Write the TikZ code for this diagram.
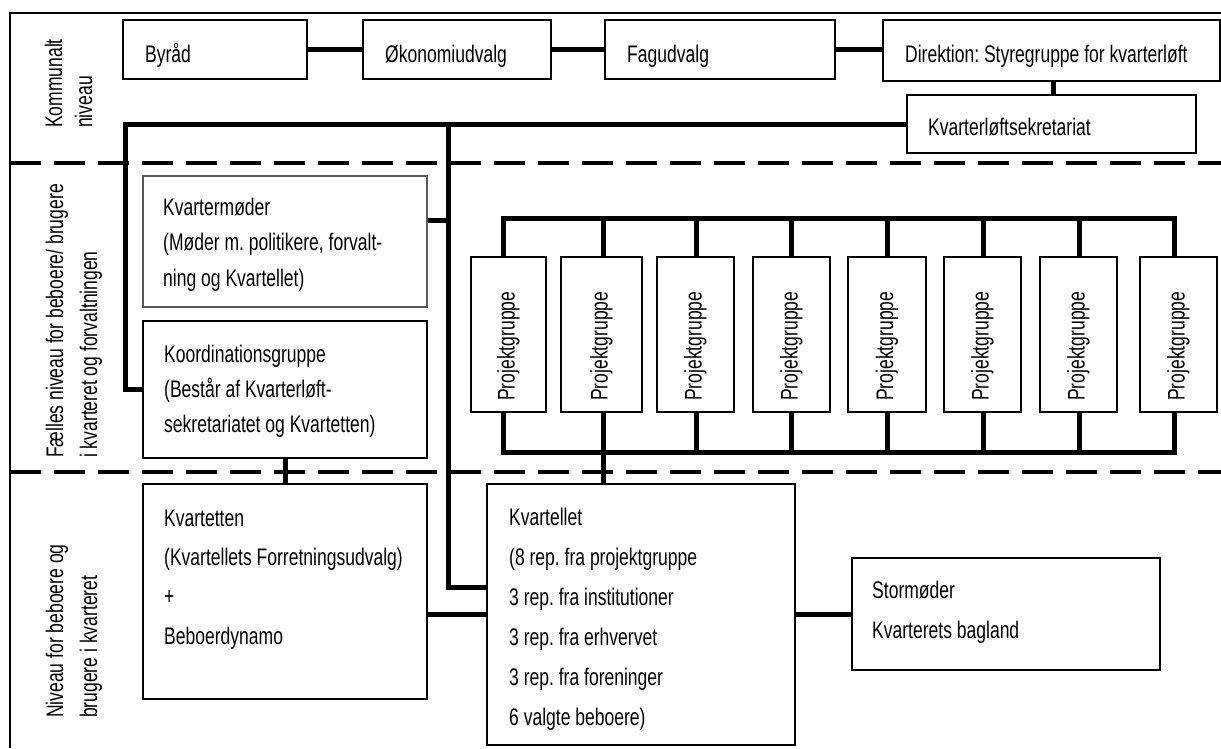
\documentclass[tikz,border=0pt]{standalone}
\usepackage{fontspec}
\setmainfont{Liberation Sans}[FakeStretch=0.73]
\usetikzlibrary{fit}
\begin{document}
\frenchspacing
\begin{tikzpicture}[x=1pt,y=-1pt,
  box/.style={draw, line width=2pt, inner sep=0pt},
  thinbox/.style={draw=black!65, line width=1.3pt, inner sep=0pt},
  conn/.style={line width=5pt},
  framel/.style={line width=1.5pt},
  sepline/.style={line width=4.5pt, dash pattern=on 31pt off 13pt},
  txt/.style={inner sep=0pt, font=\fontsize{24}{28}\selectfont, anchor=base west},
  vtxt/.style={txt, rotate=90},
]
\useasboundingbox (0,0) rectangle (1221,748);

% frame and level separators
\draw[framel] (10,748) -- (10,13) -- (1221,13);
\draw[sepline] (10,163) -- (1221,163);
\draw[sepline] (10,472) -- (1221,472);

% level labels
\node[vtxt] (lab1a) at (62,128) {Kommunalt};
\node[vtxt] (lab1b) at (92,128) {niveau};
\node[vtxt] (lab2a) at (63,458) {Fælles niveau for beboere/ brugere};
\node[vtxt] (lab2b) at (97,458) {i kvarteret og forvaltningen};
\node[vtxt] (lab3a) at (63,718) {Niveau for beboere og};
\node[vtxt] (lab3b) at (97,718) {brugere i kvarteret};

% top level boxes
\node[box, fit={(123,20) (307,79)}] (byrad) {};
\node[box, fit={(363,20) (551,79)}] (okon) {};
\node[box, fit={(605,20) (835,79)}] (fag) {};
\node[box, fit={(883,20) (1220,81)}] (dir) {};
\node[box, fit={(907,95) (1196,153)}] (kvs) {};
\node[txt] at (145,62) {Byråd};
\node[txt] at (385,62) {Økonomiudvalg};
\node[txt] at (627,62) {Fagudvalg};
\node[txt] at (905,62) {Direktion: Styregruppe for kvarterløft};
\node[txt] at (928,135) {Kvarterløftsekretariat};

% middle level
\node[thinbox, fit={(143,176) (427,307)}] (kvm) {};
\node[txt] at (163,215) {Kvartermøder};
\node[txt] at (163,250.5) {(Møder m. politikere, forvalt-};
\node[txt] at (163,286) {ning og Kvartellet)};

\node[box, fit={(143,321) (427,458)}] (koord) {};
\node[txt] at (164,362.5) {Koordinationsgruppe};
\node[txt] at (164,397.5) {(Består af Kvarterløft-};
\node[txt] at (164,432) {sekretariatet og Kvartetten)};

% project groups
\node[box, fit={(471,257) (546,412)}] (p1) {};
\node[box, fit={(561,257) (642,412)}] (p2) {};
\node[box, fit={(657,257) (734,412)}] (p3) {};
\node[box, fit={(753,257) (830,412)}] (p4) {};
\node[box, fit={(848,257) (926,412)}] (p5) {};
\node[box, fit={(944,257) (1021,412)}] (p6) {};
\node[box, fit={(1040,257) (1117,412)}] (p7) {};
\node[box, fit={(1140,257) (1217,412)}] (p8) {};
\foreach \p in {p1,p2,p3,p4,p5,p6,p7,p8}{
  \node[vtxt, anchor=west] at (\p.center |- 0,401) {Projektgruppe};
}

% bottom level
\node[box, fit={(143,484) (427,699)}] (kvt) {};
\node[txt] at (164,526) {Kvartetten};
\node[txt] at (164,565) {(Kvartellets Forretningsudvalg)};
\node[txt] at (164,604) {+};
\node[txt] at (164,644) {Beboerdynamo};

\node[box, fit={(487,484) (795,745)}] (kvl) {};
\node[txt] at (509,525) {Kvartellet};
\node[txt] at (509,565) {(8 rep. fra projektgruppe};
\node[txt] at (509,605) {3 rep. fra institutioner};
\node[txt] at (509,645) {3 rep. fra erhvervet};
\node[txt] at (509,685) {3 rep. fra foreninger};
\node[txt] at (509,725) {6 valgte beboere)};

\node[box, fit={(852,558) (1160,670)}] (storm) {};
\node[txt] at (872,598) {Stormøder};
\node[txt] at (872,638) {Kvarterets bagland};

% junction coordinates
\coordinate (c1) at (125,124);
\coordinate (j2) at (448,587);
\coordinate (j3) at (448,220);
\coordinate (d1) at (503,218);
\coordinate (d2) at (603,218);
\coordinate (d3) at (696,218);
\coordinate (d4) at (791,218);
\coordinate (d5) at (887,218);
\coordinate (d6) at (983,218);
\coordinate (d7) at (1079,218);
\coordinate (d8) at (1174,218);
\coordinate (b1) at (503,452);
\coordinate (b8) at (1174,452);

% connectors
\draw[conn] (byrad.east) -- (okon.west);
\draw[conn] (okon.east) -- (fag.west);
\draw[conn] (fag.east) -- (fag.east -| dir.west);
\draw[conn] (kvs.north -| 1053,0) -- (dir.south -| 1053,0);
\draw[conn] (kvs.west) -- (kvs.west -| c1) |- (koord.west);
\draw[conn] (kvs.west -| j2) -- (j2) -- (j2 -| kvl.west);
\draw[conn] (kvm.east |- j3) -- (j3);
\draw[conn] (koord.south) -- (kvt.north);
\draw[conn] (kvt.east |- kvl.west) -- (kvl.west);
\draw[conn] (kvl.east |- storm.west) -- (storm.west);

\draw[conn] (p1.north -| d1) -- (d1) -- (d8) -- (p8.north -| d8);
\draw[conn] (d2) -- (p2.north -| d2);
\draw[conn] (d3) -- (p3.north -| d3);
\draw[conn] (d4) -- (p4.north -| d4);
\draw[conn] (d5) -- (p5.north -| d5);
\draw[conn] (d6) -- (p6.north -| d6);
\draw[conn] (d7) -- (p7.north -| d7);
\draw[conn] (p1.south -| b1) -- (b1) -- (b8) -- (p8.south -| b8);
\draw[conn] (p2.south -| d2) -- (kvl.north -| d2);
\draw[conn] (p3.south -| d3) -- (d3 |- b1);
\draw[conn] (p4.south -| d4) -- (d4 |- b1);
\draw[conn] (p5.south -| d5) -- (d5 |- b1);
\draw[conn] (p6.south -| d6) -- (d6 |- b1);
\draw[conn] (p7.south -| d7) -- (d7 |- b1);
\end{tikzpicture}
\end{document}
